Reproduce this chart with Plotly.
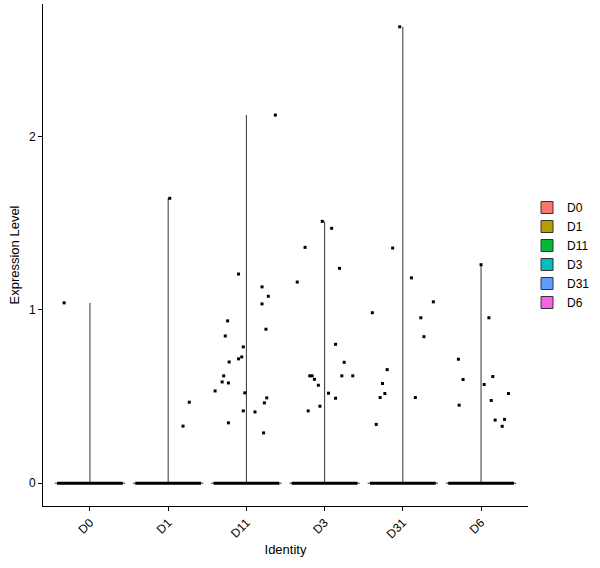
"""Violin plot of expression level per identity (Seurat style)"""

import plotly.graph_objects as go

# identities and their ggplot hue colours
groups = ['D0', 'D1', 'D11', 'D3', 'D31', 'D6']
colors = ['#F8766D', '#B79F00', '#00BA38', '#00BFC4', '#619CFF', '#F564E3']

# non-zero cells per identity: expression value and horizontal jitter offset
values = {
    'D0': [1.04],
    'D1': [1.643, 0.467, 0.329],
    'D11': [2.123, 1.206, 1.132, 1.078, 1.034, 0.936, 0.888, 0.849, 0.786,
            0.728, 0.717, 0.699, 0.619, 0.584, 0.578, 0.532, 0.521, 0.492,
            0.463, 0.417, 0.411, 0.348, 0.290],
    'D3': [1.510, 1.470, 1.360, 1.239, 1.160, 0.801, 0.697, 0.619, 0.619,
           0.619, 0.619, 0.599, 0.565, 0.519, 0.490, 0.444, 0.417],
    'D31': [2.632, 1.356, 1.184, 1.046, 0.983, 0.954, 0.845, 0.655, 0.575,
            0.517, 0.494, 0.494, 0.339],
    'D6': [1.260, 0.954, 0.715, 0.615, 0.598, 0.569, 0.517, 0.477, 0.450,
           0.364, 0.368, 0.328],
}
jitter = {
    'D0': [-0.33],
    'D1': [0.02, 0.27, 0.19],
    'D11': [0.37, -0.10, 0.20, 0.28, 0.20, -0.24, 0.25, -0.27, -0.04,
            -0.06, -0.10, -0.22, -0.29, -0.31, -0.23, -0.40, -0.02, 0.26,
            0.23, -0.04, 0.11, -0.23, 0.22],
    'D3': [-0.03, 0.09, -0.25, 0.19, -0.35, 0.14, 0.25, -0.19, -0.16,
           0.22, 0.36, -0.13, -0.08, 0.05, 0.14, -0.06, -0.21],
    'D31': [-0.04, -0.13, 0.11, 0.39, -0.39, 0.23, 0.27, -0.20, -0.26,
            -0.23, -0.29, 0.16, -0.34],
    'D6': [0.00, 0.10, -0.29, 0.15, -0.23, 0.04, 0.35, 0.13, -0.28,
           0.18, 0.30, 0.27],
}

VIOLIN_HALF = 0.45   # half width of the violin at its widest
JITTER_HALF = 0.42   # spread of the zero-valued cells

fig = go.Figure()

for i, (name, col) in enumerate(zip(groups, colors)):
    top = max(values[name])
    # degenerate violin: flat at zero, a thin spike up to the max
    fig.add_trace(go.Scatter(
        x=[i - VIOLIN_HALF, i + VIOLIN_HALF, None, i, i],
        y=[0, 0, None, 0, top],
        mode='lines',
        line=dict(color='#333333', width=1),
        showlegend=False, hoverinfo='skip'
    ))
    # zero-valued cells overplotted into a thick bar
    fig.add_trace(go.Scatter(
        x=[i - JITTER_HALF, i + JITTER_HALF],
        y=[0, 0],
        mode='lines',
        line=dict(color='black', width=3),
        showlegend=False, hoverinfo='skip'
    ))
    # non-zero cells
    fig.add_trace(go.Scatter(
        x=[i + d for d in jitter[name]],
        y=values[name],
        mode='markers',
        marker=dict(color='black', size=3, symbol='square'),
        showlegend=False,
        hovertemplate=name + ': %{y:.2f}<extra></extra>'
    ))

# legend keys (fill colours of the violins)
for name, col in zip(groups, colors):
    fig.add_trace(go.Bar(
        x=[None], y=[None], name=name,
        marker=dict(color=col, line=dict(color='#333333', width=1))
    ))

fig.update_layout(
    width=600, height=568,
    plot_bgcolor='white', paper_bgcolor='white',
    margin=dict(l=43, r=72, t=4, b=62, autoexpand=False),
    font=dict(family='Liberation Sans, Arial, sans-serif', size=12, color='black'),
    legend=dict(x=0.998, xanchor='left', y=0.5, yanchor='middle',
                font=dict(size=12), tracegroupgap=0, itemwidth=30),
    showlegend=True
)

fig.update_xaxes(
    range=[-0.6, 5.6],
    tickvals=list(range(len(groups))), ticktext=groups,
    tickangle=-45, automargin=False,
    showline=True, linecolor='black', linewidth=1,
    ticks='outside', ticklen=4, tickcolor='black',
    showgrid=False, zeroline=False,
    title=dict(text='Identity', font=dict(size=13), standoff=4)
)
fig.update_yaxes(
    range=[-0.1316, 2.7636],
    tickvals=[0, 1, 2], automargin=False,
    showline=True, linecolor='black', linewidth=1,
    ticks='outside', ticklen=4, tickcolor='black',
    showgrid=False, zeroline=False,
    title=dict(text='Expression Level', font=dict(size=13), standoff=6)
)

# drop the default page margin so the figure fills the window
fig.write_html('out.html', config={'displayModeBar': False},
               post_script="document.body.style.margin='0';")
